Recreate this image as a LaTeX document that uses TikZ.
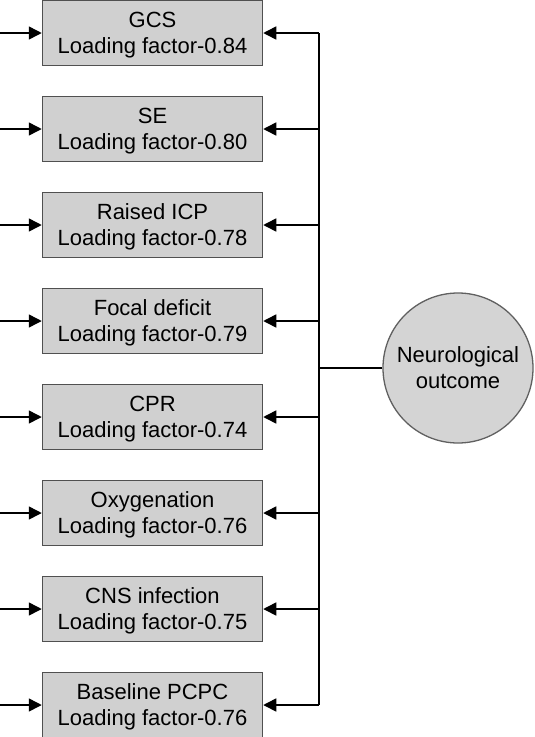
\documentclass[tikz,border=0pt]{standalone}
\usepackage{fontspec}
\setmainfont{Liberation Sans}
\usetikzlibrary{arrows.meta}
\definecolor{boxfill}{HTML}{D0D0D0}
\definecolor{boxline}{HTML}{505050}
\definecolor{circfill}{HTML}{D4D4D4}
\definecolor{circline}{HTML}{606060}
\tikzset{
  factorbox/.style={draw=boxline, fill=boxfill, line width=1.5pt, minimum width=220pt, minimum height=65pt, inner sep=0pt},
  boxtext/.style={inner sep=0pt, align=center, font=\fontsize{22}{26}\selectfont},
  outcome/.style={circle, draw=circline, fill=circfill, line width=1.3pt, minimum size=150pt, inner sep=0pt, align=center, font=\fontsize{22}{26}\selectfont},
  conn/.style={line width=1.5pt, black},
  arr/.style={conn, -{Triangle[length=13pt,width=13pt]}}
}
\begin{document}
\begin{tikzpicture}[x=1pt,y=-1pt]
\useasboundingbox (0,0) rectangle (535,737);
\foreach \i/\name/\lf in {0/GCS/0.84, 1/SE/0.80, 2/Raised ICP/0.78, 3/Focal deficit/0.79, 4/CPR/0.74, 5/Oxygenation/0.76, 6/CNS infection/0.75, 7/Baseline PCPC/0.76} {
  \node[factorbox] (b\i) at (152.5, 33+96*\i) {};
  \node[boxtext] (t\i) at (152.5, 35+96*\i) {\name\\Loading factor-\lf};
  \coordinate (in\i) at (0, 33+96*\i);
  \coordinate (j\i) at (319, 33+96*\i);
  \draw[arr] (in\i) -- (b\i.west);
  \draw[arr] (j\i) -- (b\i.east);
}
\node[outcome] (out) at (458, 368) {Neurological\\outcome};
\coordinate (jm) at (319, 368);
\draw[conn] (j0) -- (j7);
\draw[conn] (out.west) -- (jm);
\end{tikzpicture}
\end{document}
